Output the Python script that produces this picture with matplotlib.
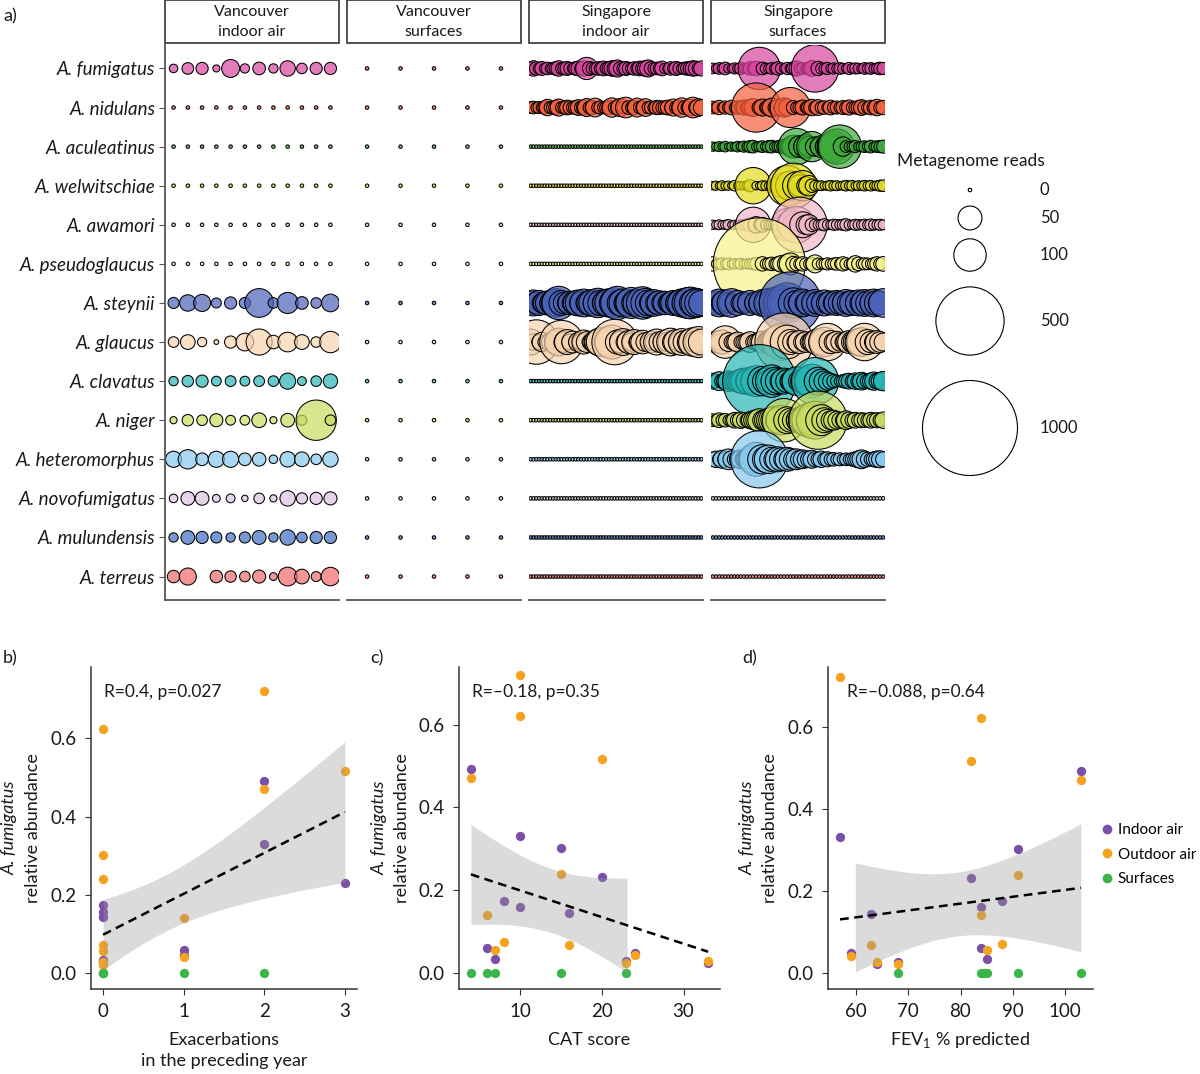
import numpy as np
import matplotlib.pyplot as plt
from matplotlib.patches import Rectangle
from matplotlib.lines import Line2D
from matplotlib.colors import to_rgba

plt.rcParams['font.family'] = ['Lato', 'DejaVu Sans']
plt.rcParams['mathtext.fontset'] = 'custom'
plt.rcParams['mathtext.rm'] = 'Lato'

DPI = 100

# ---------------- panel a: metagenome reads per sample ----------------
species = ["A. fumigatus", "A. nidulans", "A. aculeatinus", "A. welwitschiae",
           "A. awamori", "A. pseudoglaucus", "A. steynii", "A. glaucus",
           "A. clavatus", "A. niger", "A. heteromorphus", "A. novofumigatus",
           "A. mulundensis", "A. terreus"]
species_colors = ["#D8449E", "#F4603E", "#3DAA3A", "#E2DC1E", "#F2B6C6", "#F8F28A",
                  "#4A63B8", "#F7D3AE", "#27B6B6", "#C8DC60", "#86C8EE", "#DCC4E2",
                  "#3F70C2", "#F26A6A"]

panel_titles = ["Vancouver\nindoor air", "Vancouver\nsurfaces",
                "Singapore\nindoor air", "Singapore\nsurfaces"]
n_samples = [12, 5, 62, 56]

# Vancouver indoor air (12 samples)
van_air_fumigatus = [3, 8, 9, 1.5, 25, 4, 10, 4, 17, 6, 9, 9]
van_air_steynii = [7, 20, 22, 5, 9, 7, 76, 6, 37, 10, 6, 24]
van_air_glaucus = [6, 15, 4, 0.2, 9, 24, 61, 12, 31, 15, 6, 38]
van_air_clavatus = [4, 7.5, 9, 4.7, 6.3, 4.7, 6.3, 6, 19, 3.4, 6, 14]
van_air_niger = [1.6, 7.5, 6, 11, 4.7, 4.7, 15, 1.6, 12.5, 5, 162, 6]
van_air_heteromorphus = [19, 30, 10, 19, 19, 10, 12, 3, 17, 15, 6, 17]
van_air_novofumigatus = [3, 12.5, 12.5, 2.2, 3.4, 1, 6, 1.6, 17, 7, 9, 11]
van_air_mulundensis = [4, 12.5, 9, 7, 4, 7, 13, 4, 17, 6, 9, 9]
van_air_terreus = [9.6, 22, np.nan, 9.6, 7.5, 6, 11, 2.2, 28, 15, 5, 27]

# Singapore indoor air (62 samples)
sg_air_fumigatus = [9, 17, 12, 8, 13, 6, 10, 5, 9, 12,
                    17, 8, 10, 13, 9, 6, 12, 15, 10, 16,
                    42, 13, 9, 8, 12, 10, 15, 9, 13, 17,
                    16, 22, 12, 9, 13, 10, 8, 12, 9, 15,
                    13, 18, 22, 12, 8, 10, 9, 15, 6, 5,
                    12, 8, 13, 9, 6, 10, 12, 13, 17, 15,
                    10, 16]
sg_air_nidulans = [8, 10, 6, 9, 7, 12, 20, 9, 11, 14,
                   22, 8, 10, 15, 12, 9, 13, 18, 11, 16,
                   25, 10, 14, 28, 9, 12, 8, 11, 15, 30,
                   10, 13, 26, 9, 35, 12, 8, 14, 28, 10,
                   12, 24, 9, 11, 8, 14, 13, 10, 12, 15,
                   9, 22, 11, 16, 30, 12, 10, 20, 35, 14,
                   24, 18]
sg_air_steynii = [45, 60, 38, 55, 30, 42, 50, 35, 62, 75,
                  106, 55, 40, 30, 48, 36, 52, 60, 44, 70,
                  38, 55, 65, 46, 80, 58, 42, 66, 74, 50,
                  85, 106, 60, 72, 48, 66, 90, 55, 70, 62,
                  100, 78, 58, 46, 64, 40, 52, 35, 48, 30,
                  42, 55, 38, 60, 72, 50, 88, 95, 66, 80,
                  70, 56]
sg_air_glaucus = [60, 20, 200, 15, 30, 12, 8, 25, 10, 45,
                  70, 190, 35, 55, 18, 40, 12, 30, 22, 50,
                  35, 15, 28, 40, 60, 75, 20, 45, 80, 110,
                  210, 50, 38, 65, 30, 45, 25, 55, 20, 35,
                  48, 28, 15, 40, 22, 60, 35, 25, 50, 30,
                  70, 40, 55, 30, 65, 45, 20, 58, 75, 40,
                  90, 60]

# Singapore surfaces (56 samples)
sg_surf_fumigatus = [6, 4, 8, 5, 10, 4, 3, 7, 5, 9,
                     4, 6, 12, 8, 15, 180, 10, 6, 5, 8,
                     6, 12, 7, 4, 9, 5, 12, 16, 6, 8,
                     5, 10, 18, 230, 14, 7, 6, 9, 4, 7,
                     5, 8, 6, 4, 9, 5, 7, 6, 4, 8,
                     6, 8, 5, 7, 10, 9]
sg_surf_nidulans = [10, 7, 14, 5, 11, 8, 15, 6, 12, 9,
                    16, 10, 20, 25, 250, 14, 22, 9, 18, 28,
                    12, 20, 15, 30, 22, 160, 13, 8, 11, 16,
                    7, 14, 20, 10, 18, 9, 12, 7, 15, 9,
                    11, 8, 13, 10, 16, 8, 10, 14, 18, 12,
                    9, 15, 12, 20, 10, 14]
sg_surf_aculeatinus = [4, 3, 5, 3, 6, 2, 4, 3, 6, 4,
                       7, 5, 9, 10, 4, 6, 8, 5, 9, 10,
                       6, 8, 12, 15, 20, 30, 45, 129, 40, 25,
                       50, 35, 86, 30, 20, 40, 25, 50, 65, 90,
                       120, 190, 30, 8, 5, 6, 9, 4, 6, 8,
                       6, 10, 5, 8, 9, 11]
sg_surf_welwitschiae = [3, 4, 2, 5, 3, 4, 2, 6, 2, 3,
                        3, 4, 9, 129, 3, 2, 5, 4, 3, 6,
                        8, 12, 30, 60, 162, 80, 208, 70, 40, 86,
                        25, 34, 12, 6, 4, 5, 3, 4, 6, 4,
                        5, 3, 4, 6, 4, 6, 3, 5, 4, 6,
                        4, 6, 3, 5, 7, 8]
sg_surf_awamori = [4, 3, 5, 3, 4, 6, 2, 4, 3, 5,
                   6, 8, 12, 120, 20, 7, 15, 5, 4, 6,
                   9, 14, 25, 50, 100, 70, 40, 130, 320, 60,
                   30, 34, 12, 7, 5, 6, 9, 5, 4, 7,
                   6, 5, 7, 9, 5, 4, 7, 6, 5, 7,
                   5, 8, 6, 5, 7, 5]
sg_surf_pseudoglaucus = [14, 4, 6, 9, 5, 8, 3, 6, 4, 7,
                         4, 5, 6, 8, 10, 936, 14, 6, 9, 12,
                         8, 14, 20, 10, 30, 40, 16, 12, 8, 14,
                         9, 6, 10, 25, 8, 5, 6, 9, 6, 8,
                         10, 6, 14, 9, 5, 8, 20, 12, 6, 9,
                         8, 6, 10, 14, 10, 15]
sg_surf_steynii = [35, 50, 70, 40, 60, 30, 75, 25, 55, 30,
                   40, 28, 55, 22, 45, 38, 65, 35, 80, 50,
                   90, 60, 120, 75, 160, 410, 85, 55, 45, 70,
                   38, 55, 30, 65, 45, 28, 60, 40, 50, 35,
                   55, 45, 38, 65, 48, 55, 30, 60, 45, 65,
                   50, 38, 70, 55, 48, 75]
sg_surf_glaucus = [25, 40, 18, 50, 100, 28, 15, 22, 32, 12,
                   18, 25, 35, 15, 22, 28, 40, 18, 45, 60,
                   80, 100, 130, 357, 110, 55, 38, 28, 45, 25,
                   35, 22, 32, 50, 65, 55, 80, 137, 45, 28,
                   38, 25, 18, 32, 45, 38, 50, 65, 75, 137,
                   55, 38, 28, 45, 35, 25]
sg_surf_clavatus = [18, 12, 28, 15, 22, 35, 25, 30, 40, 50,
                    60, 45, 70, 55, 90, 579, 80, 60, 45, 100,
                    70, 55, 40, 60, 45, 35, 55, 75, 40, 50,
                    65, 80, 110, 229, 70, 50, 35, 25, 18, 12,
                    9, 7, 11, 15, 18, 13, 20, 16, 24, 18,
                    15, 20, 26, 18, 24, 30]
sg_surf_niger = [10, 8, 15, 9, 12, 6, 10, 18, 14, 20,
                 15, 12, 22, 28, 35, 45, 30, 40, 50, 60,
                 70, 55, 80, 190, 65, 50, 40, 35, 60, 75,
                 90, 110, 80, 140, 357, 90, 55, 40, 28, 32,
                 24, 18, 16, 28, 20, 14, 18, 12, 16, 14,
                 12, 18, 14, 16, 13, 20]
sg_surf_heteromorphus = [14, 20, 11, 25, 16, 35, 22, 14, 20, 28,
                         22, 35, 50, 70, 110, 345, 80, 60, 75, 50,
                         40, 55, 45, 35, 50, 40, 30, 36, 25, 28,
                         22, 20, 25, 16, 14, 20, 11, 16, 10, 12,
                         8, 11, 7, 10, 8, 12, 16, 22, 28, 20,
                         14, 11, 16, 20, 22, 16]

van_air = {"A. fumigatus": van_air_fumigatus, "A. steynii": van_air_steynii,
           "A. glaucus": van_air_glaucus, "A. clavatus": van_air_clavatus,
           "A. niger": van_air_niger, "A. heteromorphus": van_air_heteromorphus,
           "A. novofumigatus": van_air_novofumigatus,
           "A. mulundensis": van_air_mulundensis, "A. terreus": van_air_terreus}
van_surf = {}
sg_air = {"A. fumigatus": sg_air_fumigatus, "A. nidulans": sg_air_nidulans,
          "A. steynii": sg_air_steynii, "A. glaucus": sg_air_glaucus}
sg_surf = {"A. fumigatus": sg_surf_fumigatus, "A. nidulans": sg_surf_nidulans,
           "A. aculeatinus": sg_surf_aculeatinus,
           "A. welwitschiae": sg_surf_welwitschiae, "A. awamori": sg_surf_awamori,
           "A. pseudoglaucus": sg_surf_pseudoglaucus, "A. steynii": sg_surf_steynii,
           "A. glaucus": sg_surf_glaucus, "A. clavatus": sg_surf_clavatus,
           "A. niger": sg_surf_niger, "A. heteromorphus": sg_surf_heteromorphus}
panel_data = [van_air, van_surf, sg_air, sg_surf]

legend_reads = [0, 50, 100, 500, 1000]

# ---------------- panels b-d: A. fumigatus relative abundance ----------------
group_names = ["Indoor air", "Outdoor air", "Surfaces"]
group_colors = ["#7B4FA8", "#F5A31F", "#3BB54A"]

exac_indoor_x = [0, 0, 0, 0, 0, 0, 1, 1, 2, 2, 3]
exac_indoor_y = [0.174, 0.157, 0.145, 0.034, 0.028, 0.023, 0.06, 0.047, 0.492, 0.33, 0.231]
exac_outdoor_x = [0, 0, 0, 0, 0, 0, 0, 1, 1, 2, 2, 3]
exac_outdoor_y = [0.623, 0.302, 0.24, 0.072, 0.056, 0.028, 0.021, 0.141, 0.041, 0.722, 0.47, 0.517]
exac_surf_x = [0, 0, 0, 1, 2]
exac_surf_y = [0, 0, 0, 0, 0]

cat_indoor_x = [4, 10, 10, 8, 6, 7, 15, 16, 20, 23, 24, 33]
cat_indoor_y = [0.492, 0.331, 0.159, 0.175, 0.06, 0.035, 0.303, 0.146, 0.233, 0.028, 0.048, 0.024]
cat_outdoor_x = [4, 10, 10, 6, 7, 8, 15, 16, 20, 23, 24, 33]
cat_outdoor_y = [0.47, 0.72, 0.621, 0.141, 0.056, 0.074, 0.24, 0.068, 0.516, 0.023, 0.043, 0.028]
cat_surf_x = [4, 6, 7, 15, 23]
cat_surf_y = [0, 0, 0, 0, 0]

fev_indoor_x = [57, 59, 63, 64, 68, 82, 84, 84, 85, 88, 91, 103]
fev_indoor_y = [0.332, 0.049, 0.145, 0.023, 0.028, 0.231, 0.16, 0.06, 0.034, 0.175, 0.303, 0.493]
fev_outdoor_x = [57, 59, 63, 64, 68, 82, 84, 84, 85, 88, 91, 103]
fev_outdoor_y = [0.722, 0.042, 0.069, 0.028, 0.023, 0.517, 0.623, 0.141, 0.055, 0.072, 0.24, 0.47]
fev_surf_x = [68, 84, 84.5, 85, 91, 103]
fev_surf_y = [0, 0, 0, 0, 0, 0]

cor_labels = ["R=0.4, p=0.027", "R=\u20130.18, p=0.35", "R=\u20130.088, p=0.64"]


def read_size(reads):
    # bubble diameter grows with sqrt(reads), like ggplot scale_size
    d_px = 3.5 + 91.5 * np.sqrt(np.asarray(reads, float) / 1000)
    return (d_px * 72 / DPI) ** 2


def t_quantile(df):
    z = 1.959964
    return z + (z ** 3 + z) / (4 * df) + (5 * z ** 5 + 16 * z ** 3 + 3 * z) / (96 * df ** 2)


def lm_band(x, y, n_grid=80):
    x = np.asarray(x, float)
    y = np.asarray(y, float)
    n = len(x)
    slope, intercept = np.polyfit(x, y, 1)
    grid = np.linspace(x.min(), x.max(), n_grid)
    fit = intercept + slope * grid
    resid = y - (intercept + slope * x)
    s = np.sqrt(np.sum(resid ** 2) / (n - 2))
    sxx = np.sum((x - x.mean()) ** 2)
    se = s * np.sqrt(1 / n + (grid - x.mean()) ** 2 / sxx)
    t = t_quantile(n - 2)
    return grid, fit, fit - t * se, fit + t * se


fig = plt.figure(figsize=(12, 10.74), dpi=DPI)
W, H = 1200, 1074

# ---- panel a ----
top_lefts = [165, 347, 529, 711]
for k in range(4):
    ax = fig.add_axes([top_lefts[k] / W, 1 - 600 / H, 174 / W, 555 / H])
    n = n_samples[k]
    data = panel_data[k]
    x = np.arange(n)
    for i, sp in enumerate(species):
        vals = np.array(data.get(sp, [0] * n), float)
        ok = ~np.isnan(vals)
        ax.scatter(x[ok], np.full(ok.sum(), i), s=read_size(vals[ok]),
                   facecolors=[to_rgba(species_colors[i], 0.7)],
                   edgecolors='black', linewidths=0.75, zorder=2)
    ax.set_xlim(-0.6, n - 0.4)
    ax.set_ylim(len(species) - 0.4, -0.6)
    ax.set_xticks([])
    for side in ['top', 'right']:
        ax.spines[side].set_visible(False)
    ax.spines['bottom'].set_color('#555555')
    ax.spines['bottom'].set_linewidth(1.3)
    if k == 0:
        ax.spines['left'].set_color('#555555')
        ax.spines['left'].set_linewidth(1.3)
        ax.set_yticks(range(len(species)))
        ax.set_yticklabels(species, style='italic', fontsize=13.5)
        ax.tick_params(axis='y', length=4, color='#555555', pad=3, labelcolor='#1a1a1a')
    else:
        ax.spines['left'].set_visible(False)
        ax.set_yticks([])
    ax.add_patch(Rectangle((0, 1.003), 1, 0.0775, transform=ax.transAxes,
                           facecolor='white', edgecolor='#333333', lw=1.2, clip_on=False))
    ax.text(0.5, 1.003 + 0.0775 / 2, panel_titles[k], transform=ax.transAxes,
            ha='center', va='center', fontsize=11.5, linespacing=1.5, color='#1a1a1a')

# size legend drawn in a pixel-coordinate overlay
lax = fig.add_axes([0, 0, 1, 1], facecolor='none')
lax.set_xlim(0, W)
lax.set_ylim(H, 0)
lax.axis('off')
lax.text(897, 161, "Metagenome reads", ha='left', va='center', fontsize=12.5, color='#1a1a1a')
legend_y = [190, 218, 255, 321, 428]
lax.scatter([970] * len(legend_reads), legend_y, s=read_size(legend_reads),
            facecolors='none', edgecolors='black', linewidths=0.8)
for r, yy in zip(legend_reads, legend_y):
    lax.text(1040, yy, str(r), ha='left', va='center', fontsize=12, color='#1a1a1a')

for lab, (px, py) in zip(["a)", "b)", "c)", "d)"],
                         [(3, 16), (3, 658), (370, 658), (742, 658)]):
    lax.text(px, py, lab, ha='left', va='center', fontsize=13, color='#1a1a1a')

# ---- panels b-d ----
bottom_specs = [
    (91, 266, (exac_indoor_x, exac_indoor_y), (exac_outdoor_x, exac_outdoor_y),
     (exac_surf_x, exac_surf_y), (-0.15, 3.15), (-0.040, 0.782), [0, 1, 2, 3],
     "Exacerbations\nin the preceding year", 0.05),
    (459, 261, (cat_indoor_x, cat_indoor_y), (cat_outdoor_x, cat_outdoor_y),
     (cat_surf_x, cat_surf_y), (2.55, 34.45), (-0.0386, 0.739), [10, 20, 30],
     "CAT score", 0.048),
    (828, 265, (fev_indoor_x, fev_indoor_y), (fev_outdoor_x, fev_outdoor_y),
     (fev_surf_x, fev_surf_y), (54.7, 105.3), (-0.039, 0.747), [60, 70, 80, 90, 100],
     "FEV$_{\\mathregular{1}}$ % predicted", 0.072),
]

for j, (left, width, ind, outd, surf, xlim, ylim, xticks, xlabel, label_x) in enumerate(bottom_specs):
    ax = fig.add_axes([left / W, 1 - 989 / H, width / W, 322 / H])
    all_x, all_y = [], []
    for g, (gx, gy) in enumerate([ind, outd, surf]):
        ax.scatter(gx, gy, s=45, color=group_colors[g], linewidths=0, zorder=2)
        all_x += list(gx)
        all_y += list(gy)
    grid, fit, lo, hi = lm_band(all_x, all_y)
    ax.fill_between(grid, lo, hi, where=lo >= 0, color='#999999', alpha=0.35,
                    lw=0, zorder=3)
    ax.plot(grid, fit, color='black', lw=1.8, ls=(0, (3.5, 2.2)), zorder=4)
    ax.text(label_x, 0.922, cor_labels[j], transform=ax.transAxes,
            ha='left', va='center', fontsize=12.5, color='#1a1a1a')
    ax.set_xlim(*xlim)
    ax.set_ylim(*ylim)
    ax.set_xticks(xticks)
    ax.set_yticks([0, 0.2, 0.4, 0.6])
    ax.set_yticklabels(["0.0", "0.2", "0.4", "0.6"])
    ax.tick_params(length=4, color='#333333', labelsize=13.5, labelcolor='#1a1a1a', pad=6)
    for side in ['top', 'right']:
        ax.spines[side].set_visible(False)
    for side in ['left', 'bottom']:
        ax.spines[side].set_color('#333333')
        ax.spines[side].set_linewidth(1.1)
    ax.set_xlabel(xlabel, fontsize=13, labelpad=9 if j < 2 else 7, linespacing=1.35,
                  color='#1a1a1a')
    ax.text(-0.305, 0.5, "A. fumigatus", transform=ax.transAxes, rotation=90,
            style='italic', ha='center', va='center', fontsize=13, color='#1a1a1a')
    ax.text(-0.218, 0.5, "relative abundance", transform=ax.transAxes, rotation=90,
            ha='center', va='center', fontsize=13, color='#1a1a1a')

handles = [Line2D([], [], ls='none', marker='o', markersize=7, color=c,
                  markeredgewidth=0) for c in group_colors]
fig.legend(handles, group_names, loc='upper left',
           bbox_to_anchor=(1100 / W, 1 - 823 / H), frameon=False, fontsize=11,
           handletextpad=0.25, labelspacing=0.7, borderaxespad=0, borderpad=0,
           handlelength=0.9)

fig.savefig("out.png", dpi=DPI)
